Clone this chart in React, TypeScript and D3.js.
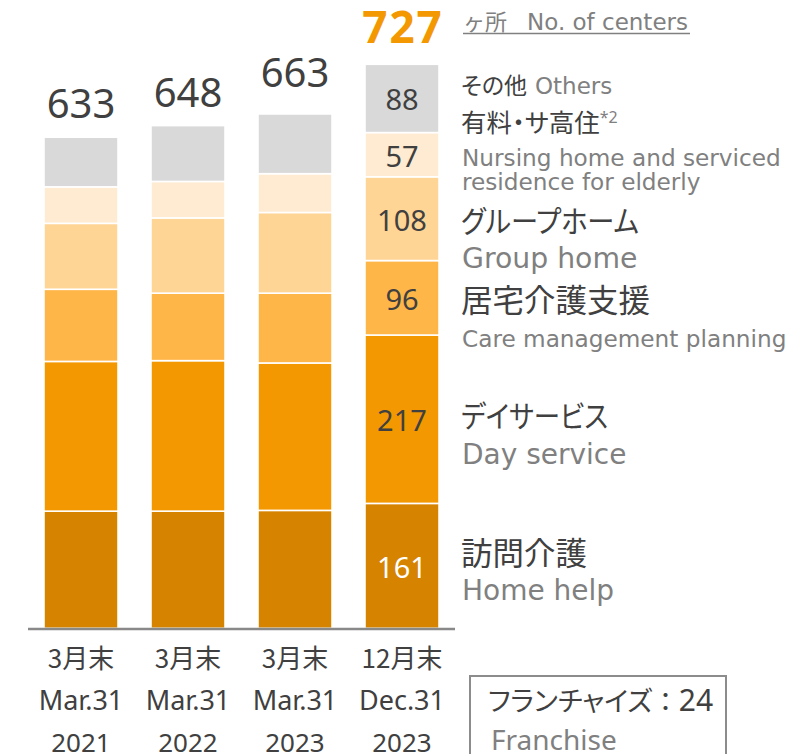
import React from "react";
import * as d3 from "d3";

// ---- data ----
const periodJa = ["3月末", "3月末", "3月末", "12月末"];
const periodEn = ["Mar.31", "Mar.31", "Mar.31", "Dec.31"];
const periodYear = ["2021", "2022", "2023", "2023"];

const homeHelp = [151, 151, 152, 161];
const dayService = [193, 194, 190, 217];
const careManagement = [93, 87, 90, 96];
const groupHome = [85, 97, 104, 108];
const nursingHome = [47, 47, 50, 57];
const others = [64, 72, 77, 88];

const seriesKeys = ["homeHelp", "dayService", "careManagement", "groupHome", "nursingHome", "others"];
const franchiseCount = 24;

// ---- styles ----
const colors: Record<string, string> = {
  homeHelp: "#D68400",
  dayService: "#F39800",
  careManagement: "#FFB648",
  groupHome: "#FFD596",
  nursingHome: "#FFEBD1",
  others: "#D9D9D9",
};
const DARK = "#404040";
const GRAY = "#808080";
const CJK = "'Noto Sans CJK JP', 'Noto Sans', sans-serif";
const LAT = "'DejaVu Sans', sans-serif";
const NUM = "'Noto Sans', sans-serif";

export default function App() {
  const W = 793;
  const H = 754;

  const valueArrays: Record<string, number[]> = {
    homeHelp, dayService, careManagement, groupHome, nursingHome, others,
  };
  const rows = periodEn.map((_, i) => {
    const r: any = { id: String(i) };
    seriesKeys.forEach((k) => (r[k] = valueArrays[k][i]));
    return r;
  });
  const totals = rows.map((r) => d3.sum(seriesKeys, (k) => r[k]));
  const stacked = d3.stack<any>().keys(seriesKeys)(rows);

  const x = d3
    .scaleBand<string>()
    .domain(rows.map((r) => r.id))
    .range([27.5, 455.5])
    .paddingInner(0.308)
    .paddingOuter(0.154);
  const y = d3.scaleLinear().domain([0, d3.max(totals)!]).range([628.3, 64.3]);

  const last = rows.length - 1;
  const totalDy = [19, 19, 27, 21];

  const cjkStyle: any = { fontFeatureSettings: "'palt'" };

  return (
    <svg
      width={W}
      height={H}
      style={{ position: "absolute", left: 0, top: 0, background: "#fff" }}
    >
      {/* bars */}
      {stacked.map((s) => (
        <g key={s.key}>
          {s.map((d, i) => (
            <rect
              key={i}
              x={x(String(i))!}
              y={y(d[1])}
              width={x.bandwidth()}
              height={y(d[0]) - y(d[1])}
              fill={colors[s.key]}
              stroke="#fff"
              strokeWidth={1.6}
            />
          ))}
        </g>
      ))}

      {/* axis line */}
      <line x1={28} x2={455} y1={629} y2={629} stroke="#898989" strokeWidth={2.5} />

      {/* totals */}
      {totals.map((t, i) =>
        i === last ? (
          <text
            key={i}
            x={x(String(i))! + x.bandwidth() / 2 + 1}
            y={y(t) - totalDy[i]}
            textAnchor="middle"
            fontFamily={NUM}
            fontWeight="bold"
            fontSize={44}
            letterSpacing={2}
            fill="#F39800"
          >
            {t}
          </text>
        ) : (
          <text
            key={i}
            x={x(String(i))! + x.bandwidth() / 2}
            y={y(t) - totalDy[i]}
            textAnchor="middle"
            fontFamily={NUM}
            fontSize={40}
            fill={DARK}
          >
            {t}
          </text>
        )
      )}

      {/* values in last bar */}
      {stacked.map((s) => {
        const d = s[last];
        const cy = (y(d[0]) + y(d[1])) / 2;
        return (
          <text
            key={s.key}
            x={x(String(last))! + x.bandwidth() / 2}
            y={cy + 12}
            textAnchor="middle"
            fontFamily={NUM}
            fontSize={29}
            fill={s.key === "homeHelp" ? "#fff" : DARK}
          >
            {d[1] - d[0]}
          </text>
        );
      })}

      {/* unit */}
      <text x={463} y={30} fill={GRAY}>
        <tspan fontFamily={CJK} fontSize={22}>ヶ所</tspan>
        <tspan fontFamily={LAT} fontSize={23} dx={20}>No. of centers</tspan>
      </text>
      <line x1={463} x2={690} y1={33.5} y2={33.5} stroke={GRAY} strokeWidth={1.5} />

      {/* legend labels */}
      <text x={461} y={94} fontSize={23}>
        <tspan fontFamily={CJK} fill={DARK} style={cjkStyle}>その他</tspan>
        <tspan fontFamily={LAT} fill={GRAY} dx={8}>Others</tspan>
      </text>
      <text x={461} y={132} fontFamily={CJK} fontSize={25.5} fill={DARK} style={cjkStyle}>
        有料・サ高住
        <tspan fontSize={16} dy={-9} fontFamily={NUM} fill={GRAY}>*2</tspan>
      </text>
      <text x={462} y={166} fontFamily={LAT} fontSize={23.2} fill={GRAY}>
        Nursing home and serviced
      </text>
      <text x={462} y={190} fontFamily={LAT} fontSize={23.2} fill={GRAY}>
        residence for elderly
      </text>

      <text
        x={461}
        y={232}
        fontFamily={CJK}
        fontSize={30}
        fill={DARK}
        style={cjkStyle}
        textLength={178}
        lengthAdjust="spacingAndGlyphs"
      >
        グループホーム
      </text>
      <text x={462} y={268} fontFamily={LAT} fontSize={28.3} fill={GRAY}>
        Group home
      </text>

      <text x={461} y={312} fontFamily={CJK} fontSize={31.5} fill={DARK} style={cjkStyle}>
        居宅介護支援
      </text>
      <text x={462} y={347} fontFamily={LAT} fontSize={23.2} fill={GRAY}>
        Care management planning
      </text>

      <text
        x={461}
        y={427}
        fontFamily={CJK}
        fontSize={30}
        fill={DARK}
        style={cjkStyle}
        textLength={147}
        lengthAdjust="spacingAndGlyphs"
      >
        デイサービス
      </text>
      <text x={462} y={464} fontFamily={LAT} fontSize={28} fill={GRAY}>
        Day service
      </text>

      <text x={461} y={565} fontFamily={CJK} fontSize={31.5} fill={DARK} style={cjkStyle}>
        訪問介護
      </text>
      <text x={462} y={600} fontFamily={LAT} fontSize={28} fill={GRAY}>
        Home help
      </text>

      {/* x labels */}
      {rows.map((r, i) => {
        const cx = x(r.id)! + x.bandwidth() / 2;
        return (
          <g key={i} fill={DARK} textAnchor="middle">
            <text x={cx} y={668} fontFamily={CJK} fontSize={26} style={cjkStyle}>
              {periodJa[i]}
            </text>
            <text x={cx} y={710} fontFamily={NUM} fontSize={27}>
              {periodEn[i]}
            </text>
            <text x={cx} y={752} fontFamily={NUM} fontSize={26}>
              {periodYear[i]}
            </text>
          </g>
        );
      })}

      {/* franchise box */}
      <rect x={470} y={676} width={256} height={100} fill="none" stroke="#8c8c8c" strokeWidth={2} />
      <text x={488} y={711} fill={DARK}>
        <tspan fontFamily={CJK} fontSize={27} style={cjkStyle}>フランチャイズ</tspan>
        <tspan fontFamily={CJK} fontSize={26.5}>：</tspan>
        <tspan fontFamily={NUM} fontSize={30}>{franchiseCount}</tspan>
      </text>
      <text x={491} y={750} fontFamily={NUM} fontSize={28} fill={GRAY}>
        Franchise
      </text>
    </svg>
  );
}
